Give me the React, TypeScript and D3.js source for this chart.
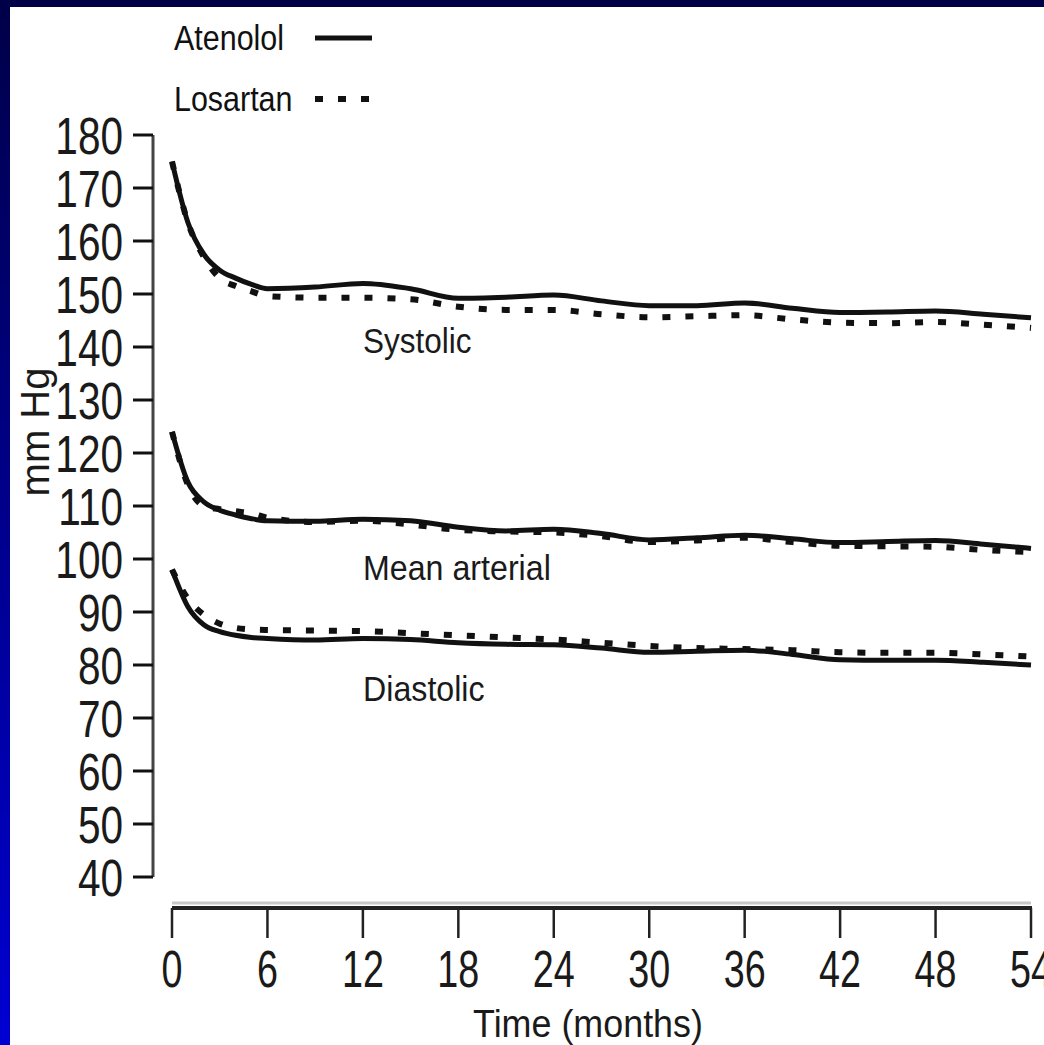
import React from 'react';
import * as d3 from 'd3';

// months of follow-up
const months = [0, 1, 2, 3, 4, 5, 6, 9, 12, 15, 18, 21, 24, 27, 30, 33, 36, 39, 42, 45, 48, 51, 54];

const systolicAtenolol = [175, 163.5, 157.5, 154.5, 153, 151.8, 151, 151.3, 152, 151, 149.2, 149.4, 149.8, 148.7, 147.8, 147.8, 148.3, 147.3, 146.5, 146.6, 146.8, 146.2, 145.5];
const systolicLosartan = [175, 163.5, 157, 153, 151.5, 150.5, 149.6, 149.3, 149.3, 149, 147.6, 147, 147, 146.2, 145.6, 145.8, 146, 145.2, 144.6, 144.5, 144.7, 144.2, 143.6];
const meanAtenolol = [124, 114.5, 110.8, 109.2, 108.3, 107.6, 107.2, 107.1, 107.5, 107.2, 106, 105.3, 105.6, 104.8, 103.6, 104, 104.5, 103.8, 103.1, 103.3, 103.5, 102.8, 102];
const meanLosartan = [124, 114, 110, 109.4, 109, 108.6, 107.8, 107, 107.2, 106.5, 105.5, 105.2, 105, 104.3, 103.2, 103.5, 104, 103.2, 102.5, 102.4, 102.3, 101.7, 101.3];
const diastolicAtenolol = [98, 91, 87.6, 86.3, 85.6, 85.2, 85, 84.7, 85, 84.8, 84.2, 83.9, 83.8, 83.2, 82.4, 82.6, 82.8, 82, 81, 80.9, 80.9, 80.5, 80];
const diastolicLosartan = [98, 92.5, 89.5, 87.8, 87, 86.7, 86.6, 86.5, 86.4, 86, 85.6, 85.2, 84.8, 84.2, 83.6, 83.2, 83, 82.8, 82.4, 82.3, 82.3, 82, 81.6];

const yTicks = [180, 170, 160, 150, 140, 130, 120, 110, 100, 90, 80, 70, 60, 50, 40];
const xTicks = [0, 6, 12, 18, 24, 30, 36, 42, 48, 54];

const groups = [
  { name: 'Systolic', atenolol: systolicAtenolol, losartan: systolicLosartan, labelY: 353, squeeze: 0.9 },
  { name: 'Mean arterial', atenolol: meanAtenolol, losartan: meanLosartan, labelY: 580, squeeze: 0.92 },
  { name: 'Diastolic', atenolol: diastolicAtenolol, losartan: diastolicLosartan, labelY: 701, squeeze: 0.92 },
];

const W = 1044, H = 1045;
const FONT = '"Liberation Sans", Arial, sans-serif';
const INK = '#111';

export default function App() {
  const x = d3.scaleLinear().domain([0, 54]).range([172, 1031]);
  const y = d3.scaleLinear().domain([40, 180]).range([877, 135]);

  const line = (vals: number[]) =>
    d3.line<number>()
      .x((_, i) => x(months[i]))
      .y((d) => y(d))
      .curve(d3.curveMonotoneX)(vals) || '';

  const axisY = 153;
  const axisX = 908;

  return (
    <svg width={W} height={H} style={{ position: 'absolute', left: 0, top: 0 }} fontFamily={FONT}>
      <defs>
        <linearGradient id="frame" x1="0" y1="0" x2="0" y2="1">
          <stop offset="0" stopColor="#000048" />
          <stop offset="1" stopColor="#0000d2" />
        </linearGradient>
      </defs>
      <rect x={0} y={0} width={W} height={H} fill="url(#frame)" />
      <rect x={10} y={7} width={W - 10} height={H - 7} fill="#fff" />

      {/* legend */}
      <text transform="translate(174,50) scale(0.87,1)" fontSize={35} fill={INK}>Atenolol</text>
      <line x1={315} x2={372} y1={38} y2={38} stroke={INK} strokeWidth={5} />
      <text transform="translate(174,111) scale(0.87,1)" fontSize={35} fill={INK}>Losartan</text>
      <line x1={315} x2={372} y1={99} y2={99} stroke={INK} strokeWidth={6} strokeDasharray="8 15" />

      {/* y axis */}
      <line x1={axisY} x2={axisY} y1={y(180)} y2={y(40)} stroke="#444" strokeWidth={3} />
      {yTicks.map((t) => (
        <g key={t}>
          <line x1={133} x2={axisY} y1={y(t)} y2={y(t)} stroke={INK} strokeWidth={3} />
          <text transform={`translate(123,${y(t) + 19}) scale(0.78,1)`} fontSize={52} textAnchor="end" fill="#1a1a1a">{t}</text>
        </g>
      ))}
      <text transform="translate(49,432) rotate(-90)" fontSize={40} textAnchor="middle" fill="#1a1a1a">mm Hg</text>

      {/* x axis */}
      <line x1={x(0)} x2={x(54)} y1={axisX - 5} y2={axisX - 5} stroke="#c8c8c8" strokeWidth={3} />
      <line x1={x(0)} x2={x(54) + 1} y1={axisX} y2={axisX} stroke="#222" strokeWidth={4} />
      {xTicks.map((t) => (
        <g key={t}>
          <line x1={x(t)} x2={x(t)} y1={axisX} y2={axisX + 30} stroke="#222" strokeWidth={2.5} />
          <text transform={`translate(${x(t)},987) scale(0.74,1)`} fontSize={51} textAnchor="middle" fill="#1a1a1a">{t}</text>
        </g>
      ))}
      <text transform="translate(588,1037) scale(0.92,1)" fontSize={39} textAnchor="middle" fill="#1a1a1a">Time (months)</text>

      {/* series */}
      {groups.map((g) => (
        <g key={g.name}>
          <path d={line(g.atenolol)} fill="none" stroke={INK} strokeWidth={5} strokeLinejoin="round" />
          <path d={line(g.losartan)} fill="none" stroke={INK} strokeWidth={6} strokeDasharray="8 15" />
          <text transform={`translate(363,${g.labelY}) scale(${g.squeeze},1)`} fontSize={35} fill="#1a1a1a">{g.name}</text>
        </g>
      ))}
    </svg>
  );
}
